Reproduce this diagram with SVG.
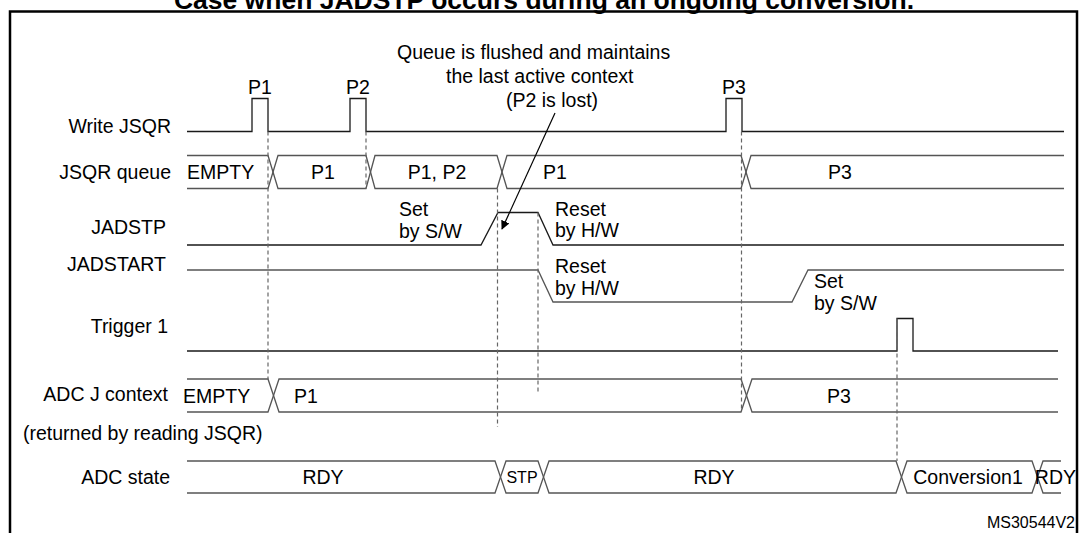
<svg xmlns="http://www.w3.org/2000/svg" width="1086" height="533" viewBox="0 0 1086 533">
<style>
text{font-family:"Liberation Sans",Arial,sans-serif;font-size:19.5px;fill:#000}
.lbl{text-anchor:end}
.mid{text-anchor:middle}
.sig{fill:none;stroke:#1a1a1a;stroke-width:1.3}
.bus{fill:none;stroke:#555;stroke-width:1.3}
.dash{fill:none;stroke:#666;stroke-width:1.2;stroke-dasharray:4 3}
.title{font-weight:bold;font-size:26.5px;text-anchor:middle}
</style>
<defs>
<marker id="ah" viewBox="0 0 10 10" refX="9" refY="5" markerWidth="9" markerHeight="9" markerUnits="userSpaceOnUse" orient="auto">
<path d="M0,0 L10,5 L0,10 z" fill="#000"/>
</marker>
</defs>
<rect width="1086" height="533" fill="#fff"/>
<text class="title" x="544" y="8.5">Case when JADSTP occurs during an ongoing conversion.</text>
<rect x="10" y="11.5" width="1067" height="540" fill="none" stroke="#000" stroke-width="2.5"/>

<g id="note">
<text x="397" y="59">Queue is flushed and maintains</text>
<text x="446" y="83">the last active context</text>
<text x="506" y="107">(P2 is lost)</text>
</g>

<g id="write-jsqr">
<text class="lbl" x="171" y="133">Write JSQR</text>
<path class="sig" d="M187,131.5 H252 V98.5 H268 V131.5 H350 V98.5 H366 V131.5 H726 V98.5 H742 V131.5 H1064"/>
<text class="mid" x="260" y="93.5">P1</text>
<text class="mid" x="358" y="93.5">P2</text>
<text class="mid" x="734" y="93.5">P3</text>
</g>

<g id="jsqr-queue">
<text class="lbl" x="171" y="178.5">JSQR queue</text>
<path class="bus" d="M187,155.5 H268 L278,188.5 H366 L375,155.5 H497 L507,188.5 H741 L751,155.5 H1064"/>
<path class="bus" d="M187,188.5 H268 L278,155.5 H366 L375,188.5 H497 L507,155.5 H741 L751,188.5 H1064"/>
<text x="187" y="178.5">EMPTY</text>
<text class="mid" x="323" y="178.5">P1</text>
<text class="mid" x="437" y="178.5">P1, P2</text>
<text x="543" y="178.5">P1</text>
<text class="mid" x="840" y="178.5">P3</text>
</g>

<g id="jadstp">
<text class="lbl" x="166" y="234">JADSTP</text>
<path class="sig" d="M187,245 H481 L498,212.5 H538 L553,245 H1064"/>
<text x="399" y="215.5">Set</text>
<text x="399" y="237.5">by S/W</text>
<text x="555" y="215.5">Reset</text>
<text x="555" y="237">by H/W</text>
</g>

<g id="jadstart">
<text class="lbl" x="166" y="271">JADSTART</text>
<path class="bus" d="M187,270 H538 L553,302 H792 L808,270 H1064"/>
<text x="555" y="273">Reset</text>
<text x="555" y="295">by H/W</text>
<text x="814" y="288">Set</text>
<text x="814" y="310">by S/W</text>
</g>

<g id="trigger1">
<text class="lbl" x="168" y="333">Trigger 1</text>
<path class="sig" d="M187,351 H897 V318.5 H913 V351 H1058"/>
</g>

<g id="adc-j-context">
<text class="lbl" x="168" y="401">ADC J context</text>
<path class="bus" d="M187,379 H268 L279,412 H741 L752,379 H1058"/>
<path class="bus" d="M187,412 H268 L279,379 H741 L752,412 H1058"/>
<text x="183" y="402.5">EMPTY</text>
<text x="294" y="402.5">P1</text>
<text class="mid" x="839" y="402.5">P3</text>
<text x="23" y="440">(returned by reading JSQR)</text>
</g>

<g id="adc-state">
<text class="lbl" x="170" y="483.5">ADC state</text>
<path class="bus" d="M187,461 H495 L500.5,477 L495,493 H187"/>
<path class="bus" d="M500.5,477 L506,461 H538 L543.5,477 L538,493 H506 Z"/>
<path class="bus" d="M543.5,477 L549,461 H896 L901.5,477 L896,493 H549 Z"/>
<path class="bus" d="M901.5,477 L907,461 H1032 L1037.5,477 L1032,493 H907 Z"/>
<path class="bus" d="M1061,461 H1043 L1037.5,477 L1043,493 H1061"/>
<text class="mid" x="323" y="484">RDY</text>
<text class="mid" x="522" y="483" style="font-size:16px">STP</text>
<text class="mid" x="714" y="484">RDY</text>
<text class="mid" x="968" y="484">Conversion1</text>
<text x="1076" y="484" style="text-anchor:end">RDY</text>
</g>

<text x="1075" y="528" style="font-size:16px;text-anchor:end">MS30544V2</text>

<g id="connectors">
<path class="dash" d="M268,131.5 V379"/>
<path class="dash" d="M366,131.5 V188.5"/>
<path class="dash" d="M497.5,188.5 V427"/>
<path class="dash" d="M538,212.5 V393"/>
<path class="dash" d="M741.5,131.5 V412"/>
<path class="dash" d="M897,318.5 V461"/>
<path d="M555,113 L502,229" fill="none" stroke="#000" stroke-width="1.2" marker-end="url(#ah)"/>
</g>
</svg>
